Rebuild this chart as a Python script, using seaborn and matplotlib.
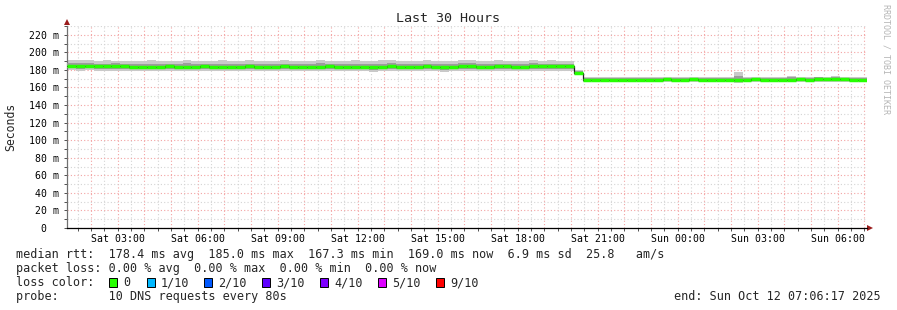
import numpy as np
import pandas as pd
import matplotlib
matplotlib.use("Agg")
import matplotlib.pyplot as plt
import matplotlib.dates as mdates
from matplotlib.patches import Rectangle
from matplotlib.ticker import FuncFormatter, MultipleLocator, FixedLocator
import seaborn as sns

# ---------------- data ----------------
start_time = "2025-10-11 01:06:17"
end_time = "2025-10-12 07:06:17"
step_minutes = 20

median_ms = [
    184.8, 185.0, 184.6, 184.6, 184.2, 184.4, 184.0, 183.6, 183.8, 183.4,
    183.6, 184.0, 183.4, 183.2, 183.8, 184.0, 183.6, 183.0, 183.4, 183.8,
    184.2, 183.6, 183.2, 183.6, 184.0, 183.8, 183.4, 183.0, 183.6, 184.2,
    183.8, 183.4, 183.8, 183.2, 183.0, 183.6, 184.0, 183.6, 183.2, 183.8,
    184.0, 183.4, 183.0, 183.6, 184.2, 184.4, 183.8, 183.4, 184.0, 184.2,
    183.6, 183.8, 184.0, 184.4, 184.2, 184.0, 184.4,
    177.0,
    168.4, 168.6,
    168.8, 168.6, 168.4, 168.8, 169.0, 168.8, 168.6, 169.2, 168.8, 169.0,
    169.4, 168.8, 168.6, 169.0, 168.8, 168.6, 169.0, 169.2, 168.8, 168.6,
    168.8, 169.0, 169.2, 168.8, 169.4, 169.6, 169.4, 169.2, 169.0, 169.0,
]

smoke_max = [
    191.6, 191.8, 191.0, 190.6, 190.8, 190.4, 190.0, 189.8, 190.6, 191.2,
    190.2, 189.8, 190.4, 191.6, 190.0, 189.6, 190.2, 190.8, 189.8, 190.4,
    191.4, 190.0, 189.6, 190.2, 191.0, 190.4, 189.8, 190.6, 191.8, 190.2,
    189.8, 190.4, 191.2, 190.0, 189.6, 190.8, 191.4, 190.2, 189.8, 190.6,
    191.0, 190.2, 189.8, 190.6, 191.2, 191.4, 190.6, 190.0, 190.8, 190.4,
    190.0, 190.6, 191.0, 190.4, 190.8, 190.6, 190.0,
    179.8,
    171.8, 172.2,
    171.6, 172.0, 171.4, 171.8, 172.4, 171.6, 172.0, 172.2, 171.4, 171.8,
    172.4, 171.6, 172.0, 171.4, 171.8, 177.2, 172.0, 172.2, 171.6, 171.8,
    172.0, 172.6, 171.8, 172.2, 172.4, 172.0, 172.6, 172.2, 171.8, 171.6,
]

smoke_q3 = [
    188.2, 187.8, 187.6, 187.2, 187.0, 187.4, 186.8, 186.4, 187.0, 187.2,
    186.6, 186.8, 187.0, 187.4, 186.6, 186.4, 187.0, 186.8, 186.4, 187.0,
    187.2, 186.6, 186.4, 186.8, 187.2, 187.0, 186.4, 186.8, 187.6, 187.0,
    186.6, 186.8, 187.2, 186.6, 186.4, 187.0, 187.4, 186.8, 186.4, 187.0,
    187.2, 186.6, 186.4, 187.0, 187.4, 187.6, 187.0, 186.6, 187.2, 187.0,
    186.8, 187.0, 187.4, 187.0, 187.2, 187.0, 186.8,
    178.6,
    170.6, 170.8,
    170.6, 170.8, 170.4, 170.8, 171.2, 170.6, 170.8, 171.2, 170.6, 170.8,
    171.2, 170.6, 170.8, 170.6, 170.8, 172.8, 171.0, 171.2, 170.6, 170.8,
    171.0, 171.4, 171.0, 171.2, 171.4, 171.2, 171.6, 171.2, 170.8, 170.8,
]

smoke_q1 = [
    181.8, 181.6, 182.0, 181.4, 181.6, 181.2, 181.4, 181.0, 181.2, 181.4,
    181.2, 180.8, 181.2, 181.4, 180.8, 181.0, 181.4, 180.6, 181.0, 181.2,
    181.0, 181.2, 180.6, 181.0, 181.4, 180.8, 181.2, 180.6, 181.0, 181.4,
    181.0, 180.6, 181.2, 180.8, 180.4, 181.0, 181.4, 180.8, 180.6, 181.2,
    181.0, 180.6, 180.4, 181.0, 181.4, 181.2, 180.8, 180.6, 181.2, 181.4,
    180.8, 181.2, 181.4, 181.0, 181.2, 181.6, 181.4,
    175.4,
    167.0, 167.2,
    167.4, 167.0, 166.8, 167.2, 167.4, 167.0, 166.8, 167.2, 167.0, 167.4,
    167.6, 167.0, 166.8, 167.2, 167.0, 166.6, 167.2, 167.4, 167.0, 166.8,
    167.0, 167.2, 167.4, 167.0, 167.6, 167.8, 167.6, 167.4, 167.2, 167.2,
]

smoke_min = [
    179.4, 179.0, 179.6, 178.8, 179.2, 178.6, 179.0, 178.4, 178.8, 179.2,
    178.6, 178.2, 178.8, 179.0, 178.4, 178.6, 179.2, 178.2, 178.6, 178.8,
    178.4, 178.8, 178.2, 178.6, 179.0, 178.4, 178.8, 178.2, 178.6, 179.0,
    178.6, 178.2, 178.8, 178.4, 178.0, 178.6, 179.0, 178.4, 178.2, 178.8,
    178.6, 178.2, 178.0, 178.6, 179.0, 178.8, 178.4, 178.2, 178.8, 179.0,
    178.4, 178.8, 179.0, 178.6, 178.8, 179.2, 179.0,
    174.4,
    166.0, 166.2,
    166.4, 166.0, 165.8, 166.2, 166.4, 166.0, 165.8, 166.2, 166.0, 166.4,
    166.6, 166.0, 165.8, 166.2, 166.0, 165.6, 166.2, 166.4, 166.0, 165.8,
    166.0, 166.2, 166.4, 166.0, 166.6, 166.8, 166.6, 166.4, 166.2, 166.2,
]

y_ticks = [0, 20, 40, 60, 80, 100, 120, 140, 160, 180, 200, 220]
y_tick_labels = ["0  ", "20 m", "40 m", "60 m", "80 m", "100 m", "120 m",
                 "140 m", "160 m", "180 m", "200 m", "220 m"]

title = "Last 30 Hours"
y_label = "Seconds"
stats_rtt = "median rtt:  178.4 ms avg  185.0 ms max  167.3 ms min  169.0 ms now  6.9 ms sd  25.8   am/s"
stats_loss = "packet loss: 0.00 % avg  0.00 % max  0.00 % min  0.00 % now"
loss_labels = ["0", "1/10", "2/10", "3/10", "4/10", "5/10", "9/10"]
loss_colors = ["#26ff00", "#00b8ff", "#0059ff", "#5e00ff", "#7e00ff", "#dd00ff", "#ff0000"]
probe_text = "probe:       10 DNS requests every 80s"
end_text = "end: Sun Oct 12 07:06:17 2025"
watermark = "RRDTOOL / TOBI OETIKER"

# ---------------- figure ----------------
W, H = 897, 310
sns.set_theme(style="white")
plt.rcParams["font.family"] = ["DejaVu Sans Mono", "DejaVu Sans"]

fig = plt.figure(figsize=(W / 100, H / 100), dpi=100)
fig.patch.set_facecolor("white")
L, R, T, B = 67, 867, 26, 228
ax = fig.add_axes([L / W, 1 - B / H, (R - L) / W, (B - T) / H])
ax.set_facecolor("white")

step = pd.Timedelta(minutes=step_minutes)
times = pd.date_range(start_time, periods=len(median_ms), freq=step)
t_ext = list(times) + [times[-1] + step]

def ext(v):
    return list(v) + [v[-1]]

xn = mdates.date2num(t_ext)
ax.fill_between(xn, ext(smoke_min), ext(smoke_max), step="post",
                color="#c9c9c9", lw=0, zorder=2)
ax.fill_between(xn, ext(smoke_q1), ext(smoke_q3), step="post",
                color="#9c9c9c", lw=0, zorder=3)

df = pd.DataFrame({"time": t_ext, "median": ext(median_ms)})
sns.lineplot(data=df, x="time", y="median", ax=ax, drawstyle="steps-post",
             color="#1a1a1a", lw=0.9, zorder=4, legend=False)

x0 = mdates.date2num(times)
x1 = mdates.date2num(times + step)
ax.hlines(median_ms, x0, x1, colors=loss_colors[0], lw=2.5, zorder=5)

ax.set_xlim(mdates.date2num(pd.Timestamp(start_time)),
            mdates.date2num(pd.Timestamp(end_time)))
ax.set_ylim(0, 230)
ax.set_xlabel("")
ax.set_ylabel("")

ax.xaxis.set_major_locator(mdates.HourLocator())
ax.xaxis.set_minor_locator(mdates.MinuteLocator(byminute=[30]))

def fmt(x, pos):
    d = mdates.num2date(x)
    return d.strftime("%a %H:%M") if d.hour % 3 == 0 and d.minute == 0 else ""

ax.xaxis.set_major_formatter(FuncFormatter(fmt))
ax.yaxis.set_major_locator(FixedLocator(y_ticks))
ax.set_yticklabels(y_tick_labels)
ax.yaxis.set_minor_locator(MultipleLocator(10))

red = "#f3a3a3"
gray = "#d4d4d4"
ax.grid(which="major", color=red, ls=(0, (1, 2)), lw=0.8)
ax.grid(which="minor", color=gray, ls=(0, (1, 2)), lw=0.8)
ax.set_axisbelow(True)

ax.tick_params(which="both", direction="out", length=2.5, width=0.7,
               color="#505050", labelsize=7.1, labelcolor="black")
ax.tick_params(axis="x", which="both", pad=2)
ax.tick_params(axis="y", which="both", pad=3.5)
ax.tick_params(which="both", bottom=True, left=True)

for s in ["top", "right"]:
    ax.spines[s].set_visible(False)
ax.spines["left"].set_color("#707070")
ax.spines["left"].set_linewidth(0.9)
ax.spines["bottom"].set_color("black")
ax.spines["bottom"].set_linewidth(0.9)

ax.plot([0], [1.02], marker="^", color="#9b1c1c", ms=4.5, mew=0,
        transform=ax.transAxes, clip_on=False)
ax.plot([1.004], [0], marker=">", color="#9b1c1c", ms=4.5, mew=0,
        transform=ax.transAxes, clip_on=False)

def fx(x):
    return x / W

def fy(y):
    return 1 - y / H

fig.text(fx(448), fy(19), title, ha="center", va="center", size=9.6)
fig.text(fx(11), fy(127), y_label, ha="center", va="center", rotation=90, size=8.3)

fig.text(fx(16), fy(254.5), stats_rtt, ha="left", va="center", size=8.48)
fig.text(fx(16), fy(268.5), stats_loss, ha="left", va="center", size=8.48)
fig.text(fx(16), fy(282.5), "loss color:", ha="left", va="center", size=8.48)
fig.text(fx(16), fy(296.5), probe_text, ha="left", va="center", size=8.48)
fig.text(fx(881), fy(296.5), end_text, ha="right", va="center", size=8.48)

sq_x = [109, 147, 204, 262, 320, 378, 436]
lab_x = [123, 161, 218, 276, 334, 392, 450]
for i, (lab, col) in enumerate(zip(loss_labels, loss_colors)):
    fig.add_artist(Rectangle((fx(sq_x[i]), fy(286.5)), 8 / W, 9 / H,
                             transform=fig.transFigure, fc=col, ec="black", lw=0.7))
    fig.text(fx(lab_x[i]), fy(282.5), lab, ha="left", va="center", size=8.48)

fig.text(fx(886), fy(4), watermark, ha="center", va="top", rotation=270,
         size=6, color="#b5b5b5")

fig.savefig("out.png", dpi=100, facecolor="white")
